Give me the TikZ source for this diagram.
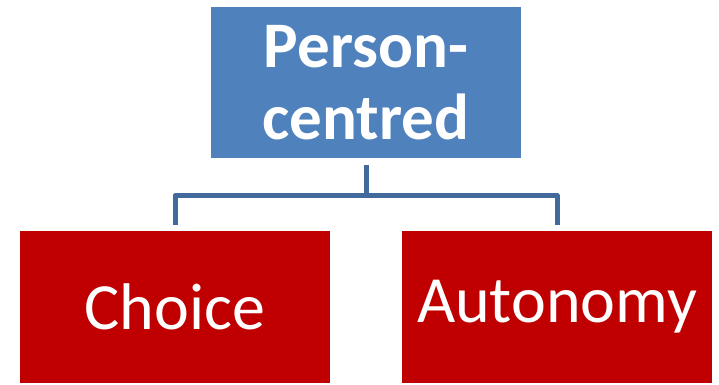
\documentclass[tikz,border=0pt]{standalone}
\usepackage{fontspec}
\setmainfont{Carlito}
\usepackage{tikz}
\usetikzlibrary{positioning}
\definecolor{topblue}{HTML}{4F81BD}
\definecolor{boxred}{HTML}{C00000}
\definecolor{linkblue}{HTML}{41699B}

\begin{document}
\begin{tikzpicture}[x=1pt,y=-1pt,semithick]
  \tikzstyle{topbox}=[rectangle,fill=topblue,text=white,minimum width=310pt,minimum height=151pt,
                      align=center,font=\fontsize{65}{72}\selectfont\bfseries,inner sep=0pt]
  \tikzstyle{leaf}=[rectangle,fill=boxred,text=white,minimum width=310pt,minimum height=152pt,
                    font=\fontsize{66}{72}\selectfont,inner sep=0pt]
  \tikzstyle{link}=[draw=linkblue,line width=5pt,line join=round,shorten <=7pt,shorten >=6pt]

  \useasboundingbox (0,0) rectangle (719,384);

  \node[topbox] (P) at (366,82.5) {Person-\\centred};
  \node[leaf] (C) at (175,307) {Choice};
  \node[leaf] (A) at (557,307) {Autonomy};

  \draw[link] (P.south) -- ++(0,37) -| (C.north);
  \draw[link] (P.south) -- ++(0,37) -| (A.north);
\end{tikzpicture}
\end{document}
